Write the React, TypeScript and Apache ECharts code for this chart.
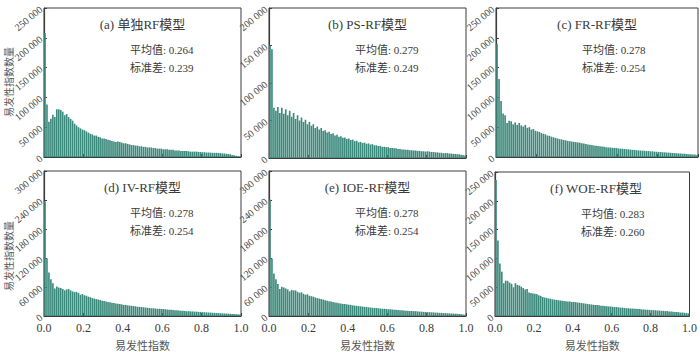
import React, { useEffect, useRef } from "react";
import * as echarts from "echarts";

// Histogram counts (thousands of cells) per 0.01-wide susceptibility bin, 0.00–1.00
const countsA = [
  208, 88, 59, 64, 71, 67, 80, 80, 79, 76,
  70, 72, 67, 64, 61, 56, 53, 50, 48, 46,
  45, 43, 41, 39, 38, 36, 36, 34, 33, 31,
  31, 30, 29, 28, 27, 26, 25, 26, 25, 24,
  23, 23, 22, 21, 20, 20, 19, 19, 18, 18,
  17, 17, 16, 16, 16, 15, 15, 14, 14, 14,
  13, 13, 13, 12, 12, 12, 11, 11, 11, 10,
  10, 10, 10, 9.5, 9, 9, 9, 9, 8.5, 8.5,
  8, 8, 7.5, 7.5, 7.3, 7, 7, 7, 6.8, 6.5,
  6, 5.8, 5.5, 5, 4.5, 3.5, 3, 2, 1.2, 0.5,
];
const countsB = [
  150, 145, 67, 63, 68, 60, 67, 59, 65, 57,
  63, 55, 60, 52, 57, 50, 54, 48, 51, 45,
  48, 43, 45, 40, 42, 38, 40, 36, 37, 34,
  35, 32, 33, 30, 31, 28.5, 29, 27, 27.5, 25.5,
  26, 24, 24.5, 22.5, 23, 21, 21.5, 20, 20.5, 19,
  19.5, 18, 18.5, 17, 17, 16, 16, 15, 15, 14.5,
  14.5, 13.5, 13.5, 13, 13, 12, 12, 11.5, 11.5, 11,
  11, 10.5, 10.5, 10, 10, 9.5, 9.5, 9, 9, 8.5,
  9, 8.5, 8, 8, 7.5, 7.5, 7, 7, 6.5, 6.5,
  6.5, 6, 6, 5.5, 5.5, 5, 5, 4.5, 4, 3.5,
];
const countsC = [
  189, 131, 94, 73, 70, 57, 61, 60, 55, 58,
  54, 57, 53, 51, 54, 49, 50, 46, 47, 44,
  43, 42, 40, 39, 38, 36, 35.5, 34, 33, 32,
  31, 30, 29.5, 28.5, 28, 27, 26.5, 26, 25.5, 25,
  24.5, 24, 23, 22.5, 22, 21, 20.5, 20, 19.5, 19,
  18.5, 18, 17.5, 17, 16.5, 16, 16, 15.5, 15, 15,
  14.5, 14, 14, 13.5, 13, 13, 12.5, 12, 12, 11.5,
  11, 11, 10.5, 10.5, 10, 10, 9.5, 9.5, 9, 8.8,
  8.5, 8.3, 8, 7.8, 7.5, 7.3, 7, 6.8, 6.5, 6.3,
  6, 5.8, 5.5, 5.3, 5, 4.8, 4.5, 4.2, 4, 3.5,
];
const countsD = [
  237, 119, 90, 76, 68, 57, 61, 59, 58, 56,
  53, 55, 56, 53, 51, 49.5, 50, 47.5, 44, 45.5,
  43, 42, 40, 39, 37, 36, 35, 34, 33, 31.5,
  31, 30, 29, 28.5, 27.5, 27, 26, 25.5, 25, 24,
  23, 23, 22, 21.5, 21, 20.5, 20, 19, 19, 18.5,
  18, 17.5, 17, 16.5, 16, 16, 15.5, 15, 15, 14.5,
  14.5, 14, 13.5, 13, 13, 12.5, 12, 12, 11.5, 11,
  11, 10.5, 10, 10, 9.5, 9.5, 9, 9, 8.5, 8.5,
  8, 7.8, 7.5, 7.3, 7, 6.8, 6.5, 6.3, 6, 5.8,
  5.5, 5.3, 5, 4.8, 4.5, 4.3, 4, 3.8, 3.5, 3,
];
const countsE = [
  241, 119, 88, 76, 66, 56, 60.5, 59, 57, 55,
  51, 54, 53, 53, 50, 48, 49, 46, 44, 45,
  42, 41, 40, 38.5, 37, 36, 35, 34, 32.5, 31.5,
  30.5, 30, 29, 28, 27.5, 26.5, 26, 25, 25, 24,
  23.5, 23, 22, 21.5, 21, 20.5, 20, 19.5, 19, 18.5,
  18, 17.5, 17, 16.5, 16.5, 16, 15.5, 15, 15, 14.5,
  14, 14, 13.5, 13, 13, 12.5, 12, 12, 11.5, 11,
  11, 10.5, 10.5, 10, 10, 9.5, 9, 9, 8.5, 8.5,
  8, 8, 7.5, 7.5, 7, 7, 6.5, 6.5, 6, 6,
  5.5, 5.5, 5, 5, 4.5, 4.5, 4, 3.5, 3, 2.5,
];
const countsF = [
  236, 131, 91, 77, 57, 61.5, 61, 58, 56, 50,
  57, 54, 53, 51, 48.5, 46, 47, 41, 40, 39,
  38.5, 38, 36, 35, 33, 32, 31.5, 30.5, 30, 29,
  28.5, 28, 27.5, 27, 26.5, 26, 25.5, 25, 25, 24.5,
  24.5, 24, 23.5, 23, 22.5, 22, 21.5, 21, 20.5, 20,
  19.5, 19, 19, 18.5, 18, 18, 17.5, 17, 16.5, 16.5,
  16, 15.5, 15.5, 15, 14.5, 14.5, 14, 13.5, 13.5, 13,
  13, 12.5, 12.5, 12, 12, 11.5, 11.5, 11, 11, 10.5,
  10.5, 10, 10, 9.5, 9.5, 9, 9, 8.5, 8.5, 8,
  8, 7.5, 7, 7, 6.5, 6, 6, 5.5, 5, 4.5,
];

const titles = ["(a) 单独RF模型", "(b) PS-RF模型", "(c) FR-RF模型", "(d) IV-RF模型", "(e) IOE-RF模型", "(f) WOE-RF模型"];
const means = ["0.264", "0.279", "0.278", "0.278", "0.278", "0.283"];
const stds = ["0.239", "0.249", "0.254", "0.254", "0.254", "0.260"];
const yMaxes = [250000, 200000, 250000, 300000, 300000, 250000];
const yIntervals = [50000, 50000, 50000, 60000, 60000, 50000];
const xTickLabels = ["0.0", "0.2", "0.4", "0.6", "0.8", "1.0"];
const allCounts = [countsA, countsB, countsC, countsD, countsE, countsF];

const BIN = 0.01;

const grids = [
  { left: 44, top: 8, width: 197, height: 149 },
  { left: 269, top: 8, width: 197, height: 150 },
  { left: 496, top: 8, width: 202, height: 149 },
  { left: 44, top: 171, width: 197, height: 151 },
  { left: 269, top: 171, width: 197, height: 151 },
  { left: 495, top: 172, width: 202, height: 149 },
];

const SERIF = '"Liberation Serif", "Noto Sans CJK SC", serif';
const TEXT = "#3a3a3a";
const AXIS = "#3c3c3c";

export default function App() {
  const ref = useRef<HTMLDivElement>(null);
  useEffect(() => {
    document.body.style.margin = "0";
    const chart = echarts.init(ref.current!, null, { renderer: "svg" });
    const fmt = (v: number) => (v === 0 ? "0" : `${Math.round(v / 1000)} 000`);
    const graphic: any[] = [];
    grids.forEach((g, i) => {
      graphic.push({
        type: "text",
        x: g.left + g.width / 2,
        y: g.top + 16,
        style: { text: titles[i], font: `13px ${SERIF}`, fill: TEXT, textAlign: "center", textVerticalAlign: "middle" },
      });
      graphic.push({
        type: "text",
        x: g.left + 86,
        y: g.top + 42,
        style: { text: `平均值: ${means[i]}`, font: `11px ${SERIF}`, fill: TEXT, textAlign: "left", textVerticalAlign: "middle" },
      });
      graphic.push({
        type: "text",
        x: g.left + 86,
        y: g.top + 60,
        style: { text: `标准差: ${stds[i]}`, font: `11px ${SERIF}`, fill: TEXT, textAlign: "left", textVerticalAlign: "middle" },
      });
    });
    [82, 256].forEach((cy) => {
      graphic.push({
        type: "text",
        x: 9,
        y: cy,
        rotation: Math.PI / 2,
        style: { text: "易发性指数数量", font: `10px ${SERIF}`, fill: "#555", textAlign: "center", textVerticalAlign: "middle" },
      });
    });

    const option: any = {
      animation: false,
      backgroundColor: "#fff",
      textStyle: { fontFamily: SERIF },
      grid: grids.map((g) => ({ ...g, show: true, borderColor: AXIS, borderWidth: 1, backgroundColor: "transparent" })),
      xAxis: grids.map((_, i) => ({
        type: "value",
        gridIndex: i,
        min: 0,
        max: 1,
        interval: 0.2,
        name: i >= 3 ? "易发性指数" : "",
        nameLocation: "middle",
        nameGap: 24,
        nameTextStyle: { fontSize: 11, color: "#555", fontFamily: SERIF },
        axisLine: { show: true, lineStyle: { color: AXIS, width: 1.2 } },
        axisTick: { show: true, inside: true, length: 3, lineStyle: { color: AXIS } },
        splitLine: { show: false },
        axisLabel: {
          show: i >= 3,
          fontSize: 12,
          color: TEXT,
          margin: 6,
          fontFamily: SERIF,
          formatter: (v: number) => xTickLabels[Math.round(v / 0.2)] ?? "",
        },
      })),
      yAxis: grids.map((_, i) => ({
        type: "value",
        gridIndex: i,
        min: 0,
        max: yMaxes[i],
        interval: yIntervals[i],
        axisLine: { show: true, lineStyle: { color: AXIS, width: 1.2 } },
        axisTick: { show: true, inside: true, length: 3, lineStyle: { color: AXIS } },
        splitLine: { show: false },
        axisLabel: {
          rotate: 40,
          fontSize: 10,
          color: "#444",
          margin: 3,
          fontFamily: SERIF,
          formatter: fmt,
        },
      })),
      series: allCounts.map((counts, i) => ({
        type: "bar",
        xAxisIndex: i,
        yAxisIndex: i,
        barWidth: 1.65,
        itemStyle: { color: "#3c8a7c", borderWidth: 0 },
        data: counts.map((c, k) => [BIN * k + BIN / 2, c * 1000]),
      })),
      graphic,
    };
    chart.setOption(option);
    return () => chart.dispose();
  }, []);
  return <div ref={ref} style={{ width: 700, height: 352 }} />;
}
